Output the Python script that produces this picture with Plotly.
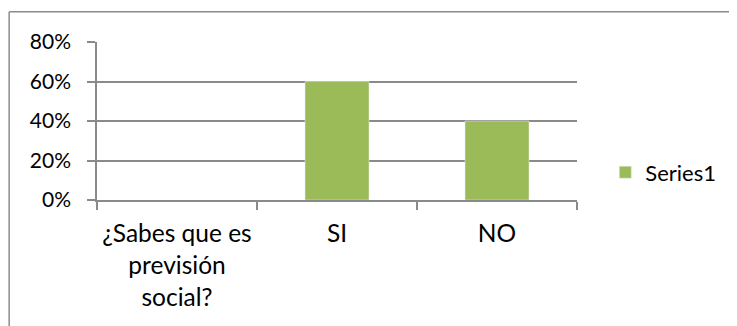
import plotly.graph_objects as go

categories = ["¿Sabes que es<br>previsión<br>social?", "SI", "NO"]
values = [None, 0.60, 0.40]
series_name = "Series1"

BAR = "#9BBB59"
GRID = "#8A8A8A"
FONT = "Lato, Calibri, sans-serif"

fig = go.Figure()
fig.add_trace(go.Bar(x=categories, y=values, name=series_name, marker_color=BAR, width=0.4))

# chart frame: only top and left edges fall inside the picture
frame = dict(type="line", xref="paper", yref="paper", line=dict(color="#8C8C8C", width=1.5), layer="below")

# page has ~8px body margin, so the figure is a bit smaller than the window
fig.update_layout(
    width=729, height=318,
    margin=dict(l=89, r=160, t=33.5, b=125.7),
    paper_bgcolor="white", plot_bgcolor="white",
    font=dict(family=FONT, size=21, color="black"),
    showlegend=True,
    legend=dict(x=1.059, y=0.175, yanchor="middle", xanchor="left", font=dict(size=22)),
    xaxis=dict(showline=True, linecolor=GRID, linewidth=1.5, ticks="outside", tickson="boundaries",
               ticklen=8, tickcolor=GRID, tickwidth=1.5, showgrid=False,
               tickfont=dict(size=24.5), ticklabelstandoff=11),
    yaxis=dict(range=[0, 0.8], dtick=0.2, tickformat=".0%", showline=True, linecolor=GRID, linewidth=1.5,
               ticks="outside", ticklen=8, tickcolor=GRID, tickwidth=1.5,
               showgrid=True, gridcolor=GRID, gridwidth=1.5, zeroline=False, ticklabelstandoff=12),
    shapes=[
        dict(frame, x0=-0.183, x1=1.4, y0=1.192, y1=1.192),
        dict(frame, x0=-0.183, x1=-0.183, y0=-1.0, y1=1.192),
    ],
)

fig.write_html("out.html")
